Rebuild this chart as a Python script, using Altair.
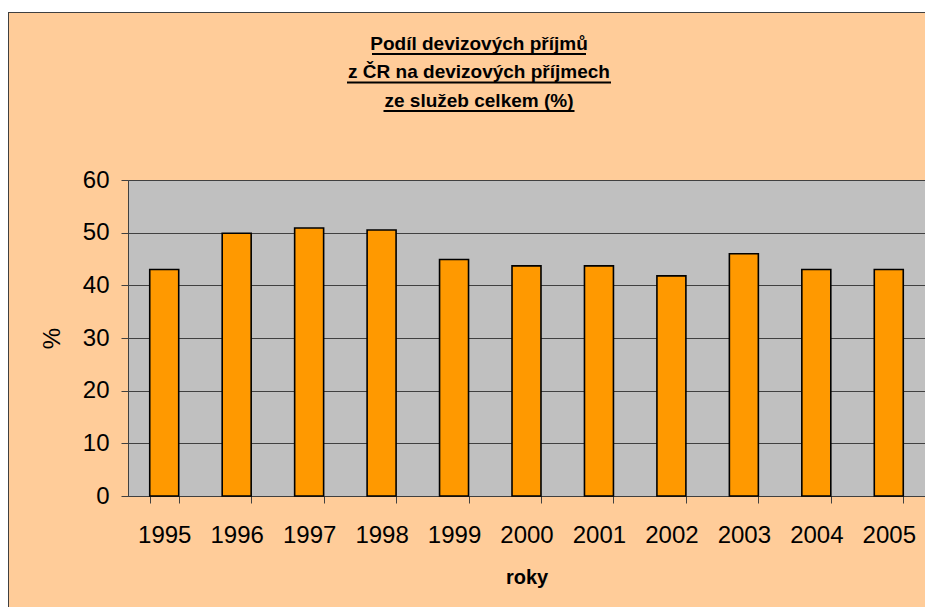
import altair as alt
import pandas as pd

# ---- data ----
years = ["1995", "1996", "1997", "1998", "1999", "2000", "2001", "2002", "2003", "2004", "2005"]
shares = [43.0, 49.9, 50.9, 50.5, 44.9, 43.7, 43.7, 41.8, 46.0, 43.0, 43.0]
y_ticks = [0, 10, 20, 30, 40, 50, 60]
title_lines = ["Podíl devizových příjmů", "z ČR na devizových příjmech", "ze služeb celkem (%)"]
x_title = "roky"
y_title = "%"

df = pd.DataFrame({"rok": years, "podil": shares})
one = pd.DataFrame({"k": [0]})

# ---- layout ----
W, H = 797, 316
PAD = {"left": 120, "top": 172, "right": 0, "bottom": 111}
FONT = "Liberation Sans"
TITLE_SIZE = 19
title_cx = 351
title_base = [-130.5, -102.0, -73.5]
title_w = [212, 262, 189]
dark = "#404040"

bars = alt.Chart(df).mark_bar(color="#FF9900", stroke="#000000", strokeWidth=1.6).encode(
    x=alt.X(
        "rok:N", sort=None,
        scale=alt.Scale(paddingInner=0.6, paddingOuter=0.3),
        axis=alt.Axis(
            labelAngle=0, tickBand="extent", tickSize=7, tickColor=dark, domainColor=dark,
            labelFont=FONT, labelFontSize=24, labelColor="#000000", labelPadding=20,
            labelBaseline="top", grid=False,
            title=x_title, titleFont=FONT, titleFontSize=20, titleFontWeight="bold",
            titleColor="#000000", titleX=W / 2, titleY=81, titleAlign="center",
            titleBaseline="middle",
        ),
    ),
    y=alt.Y(
        "podil:Q",
        scale=alt.Scale(domain=[0, 60], nice=False),
        axis=alt.Axis(
            values=y_ticks, grid=True, gridColor=dark, gridWidth=1, tickSize=7,
            tickColor=dark, domainColor=dark, labelFont=FONT, labelFontSize=24,
            labelColor="#000000", labelPadding=12,
            title=y_title, titleFont=FONT, titleFontSize=24, titleFontWeight="normal",
            titleColor="#000000", titleX=-76, titleY=H / 2, titleAngle=270,
            titleAlign="center", titleBaseline="middle",
        ),
    ),
)

layers = []
# white strip above the chart frame and the frame's left/top border
layers.append(alt.Chart(one).mark_rect(fill="#FFFFFF").encode(
    x=alt.value(-120), x2=alt.value(W + 8), y=alt.value(-172), y2=alt.value(-168)))
layers.append(alt.Chart(one).mark_rule(color=dark, strokeWidth=1).encode(
    x=alt.value(-119.5), y=alt.value(-168), y2=alt.value(H + 119)))
layers.append(alt.Chart(one).mark_rule(color=dark, strokeWidth=1).encode(
    x=alt.value(-120), x2=alt.value(W + 8), y=alt.value(-167.5)))

for line, base, w in zip(title_lines, title_base, title_w):
    layers.append(alt.Chart(one).mark_text(
        font=FONT, fontSize=TITLE_SIZE, fontWeight="bold", color="#000000",
        align="center", baseline="alphabetic").encode(
        x=alt.value(title_cx), y=alt.value(base), text=alt.value(line)))
    layers.append(alt.Chart(one).mark_rule(color="#000000", strokeWidth=2).encode(
        x=alt.value(title_cx - w / 2 - 1), x2=alt.value(title_cx + w / 2 + 1),
        y=alt.value(base + 4.5)))

chart = alt.layer(bars, *layers).properties(
    width=W, height=H,
    autosize=alt.AutoSizeParams(type="none"),
    padding=PAD,
    background="#FFCC99",
).configure_view(fill="#C0C0C0", stroke="#808080", strokeWidth=1)

chart.save("out.html", embed_options={"renderer": "svg", "actions": False})
